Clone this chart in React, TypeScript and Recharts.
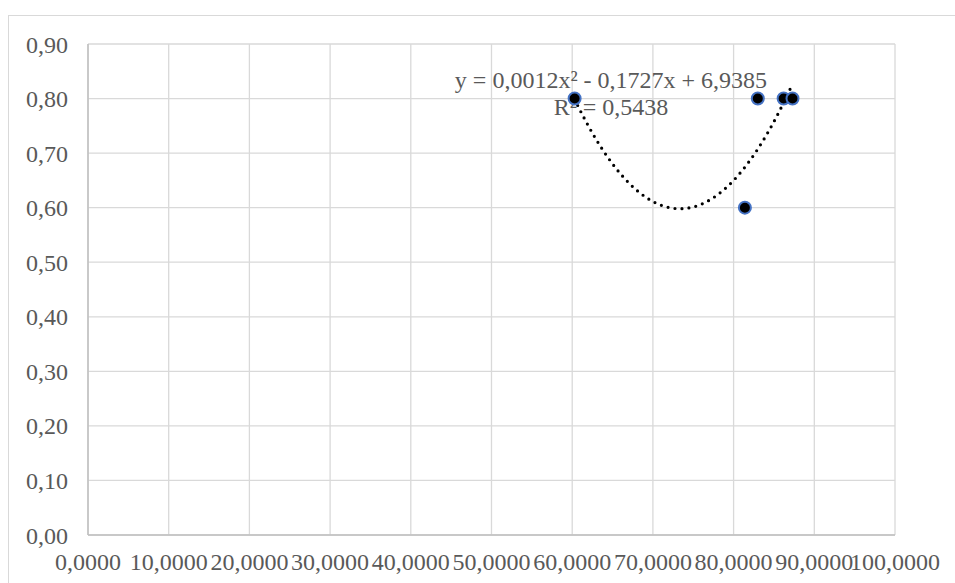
import React from 'react';
import { ScatterChart, Scatter, XAxis, YAxis, CartesianGrid, Customized } from 'recharts';

const xValues = [60.3, 81.4, 83.0, 86.2, 87.3];
const yValues = [0.8, 0.6, 0.8, 0.8, 0.8];
const xTicks = [0, 10, 20, 30, 40, 50, 60, 70, 80, 90, 100];
const yTicks = [0, 0.1, 0.2, 0.3, 0.4, 0.5, 0.6, 0.7, 0.8, 0.9];
const equationText = 'y = 0,0012x² - 0,1727x + 6,9385';
const r2Text = 'R² = 0,5438';

const points = xValues.map((x, i) => ({ x, y: yValues[i] }));

// least-squares quadratic fit (polynomial trendline, order 2)
function fitQuadratic(xs: number[], ys: number[]) {
  const m = xs.reduce((a, b) => a + b, 0) / xs.length;
  const u = xs.map((x) => x - m);
  const S = (p: number) => u.reduce((a, v) => a + Math.pow(v, p), 0);
  const T = (p: number) => u.reduce((a, v, i) => a + Math.pow(v, p) * ys[i], 0);
  const A = [
    [xs.length, S(1), S(2), T(0)],
    [S(1), S(2), S(3), T(1)],
    [S(2), S(3), S(4), T(2)],
  ];
  for (let c = 0; c < 3; c++) {
    for (let r = c + 1; r < 3; r++) {
      const f = A[r][c] / A[c][c];
      for (let k = c; k < 4; k++) A[r][k] -= f * A[c][k];
    }
  }
  const sol = [0, 0, 0];
  for (let r = 2; r >= 0; r--) {
    let s = A[r][3];
    for (let k = r + 1; k < 3; k++) s -= A[r][k] * sol[k];
    sol[r] = s / A[r][r];
  }
  return (x: number) => sol[0] + sol[1] * (x - m) + sol[2] * (x - m) * (x - m);
}

const trendFn = fitQuadratic(xValues, yValues);
const xMin = Math.min(...xValues);
const xMax = Math.max(...xValues);
const trend = Array.from({ length: 81 }, (_, i) => {
  const x = xMin + ((xMax - xMin) * i) / 80;
  return { x, y: trendFn(x) };
});

const tickStyle = { fill: '#595959', fontSize: 24, fontFamily: 'Liberation Serif' };

const Marker = (props: any) => (
  <circle cx={props.cx} cy={props.cy} r={6} fill="#000000" stroke="#4472C4" strokeWidth={2} />
);

const Label = () => (
  <g fontFamily="Liberation Serif" fontSize={24} fill="#595959" textAnchor="middle">
    <text x={602} y={72}>{equationText}</text>
    <text x={602} y={99}>{r2Text}</text>
  </g>
);

export default function App() {
  return (
    <div
      style={{
        position: 'fixed',
        left: 8,
        top: 15,
        width: 948,
        height: 570,
        border: '1px solid #d9d9d9',
        background: '#fff',
      }}
    >
      <ScatterChart width={948} height={570} margin={{ top: 28, right: 62, bottom: 11, left: 0 }}>
        <CartesianGrid stroke="#d9d9d9" strokeWidth={1.3} />
        <XAxis
          type="number"
          dataKey="x"
          domain={[0, 100]}
          ticks={xTicks}
          interval={0}
          height={40}
          tickSize={0}
          tickMargin={18}
          tick={tickStyle}
          axisLine={{ stroke: '#bfbfbf', strokeWidth: 1.5 }}
          tickFormatter={(v: number) => v.toFixed(4).replace('.', ',')}
          allowDataOverflow
        />
        <YAxis
          type="number"
          dataKey="y"
          domain={[0, 0.9]}
          ticks={yTicks}
          interval={0}
          width={79}
          tickSize={0}
          tickMargin={20}
          tick={tickStyle}
          axisLine={{ stroke: '#bfbfbf', strokeWidth: 1.5 }}
          tickFormatter={(v: number) => v.toFixed(2).replace('.', ',')}
          allowDataOverflow
        />
        <Customized component={Label} />
        <Scatter
          data={trend}
          isAnimationActive={false}
          line={{ stroke: '#000', strokeWidth: 3.2, strokeDasharray: '0 7', strokeLinecap: 'round' }}
          lineType="joint"
          shape={() => <g />}
        />
        <Scatter data={points} isAnimationActive={false} shape={Marker} />
      </ScatterChart>
    </div>
  );
}
